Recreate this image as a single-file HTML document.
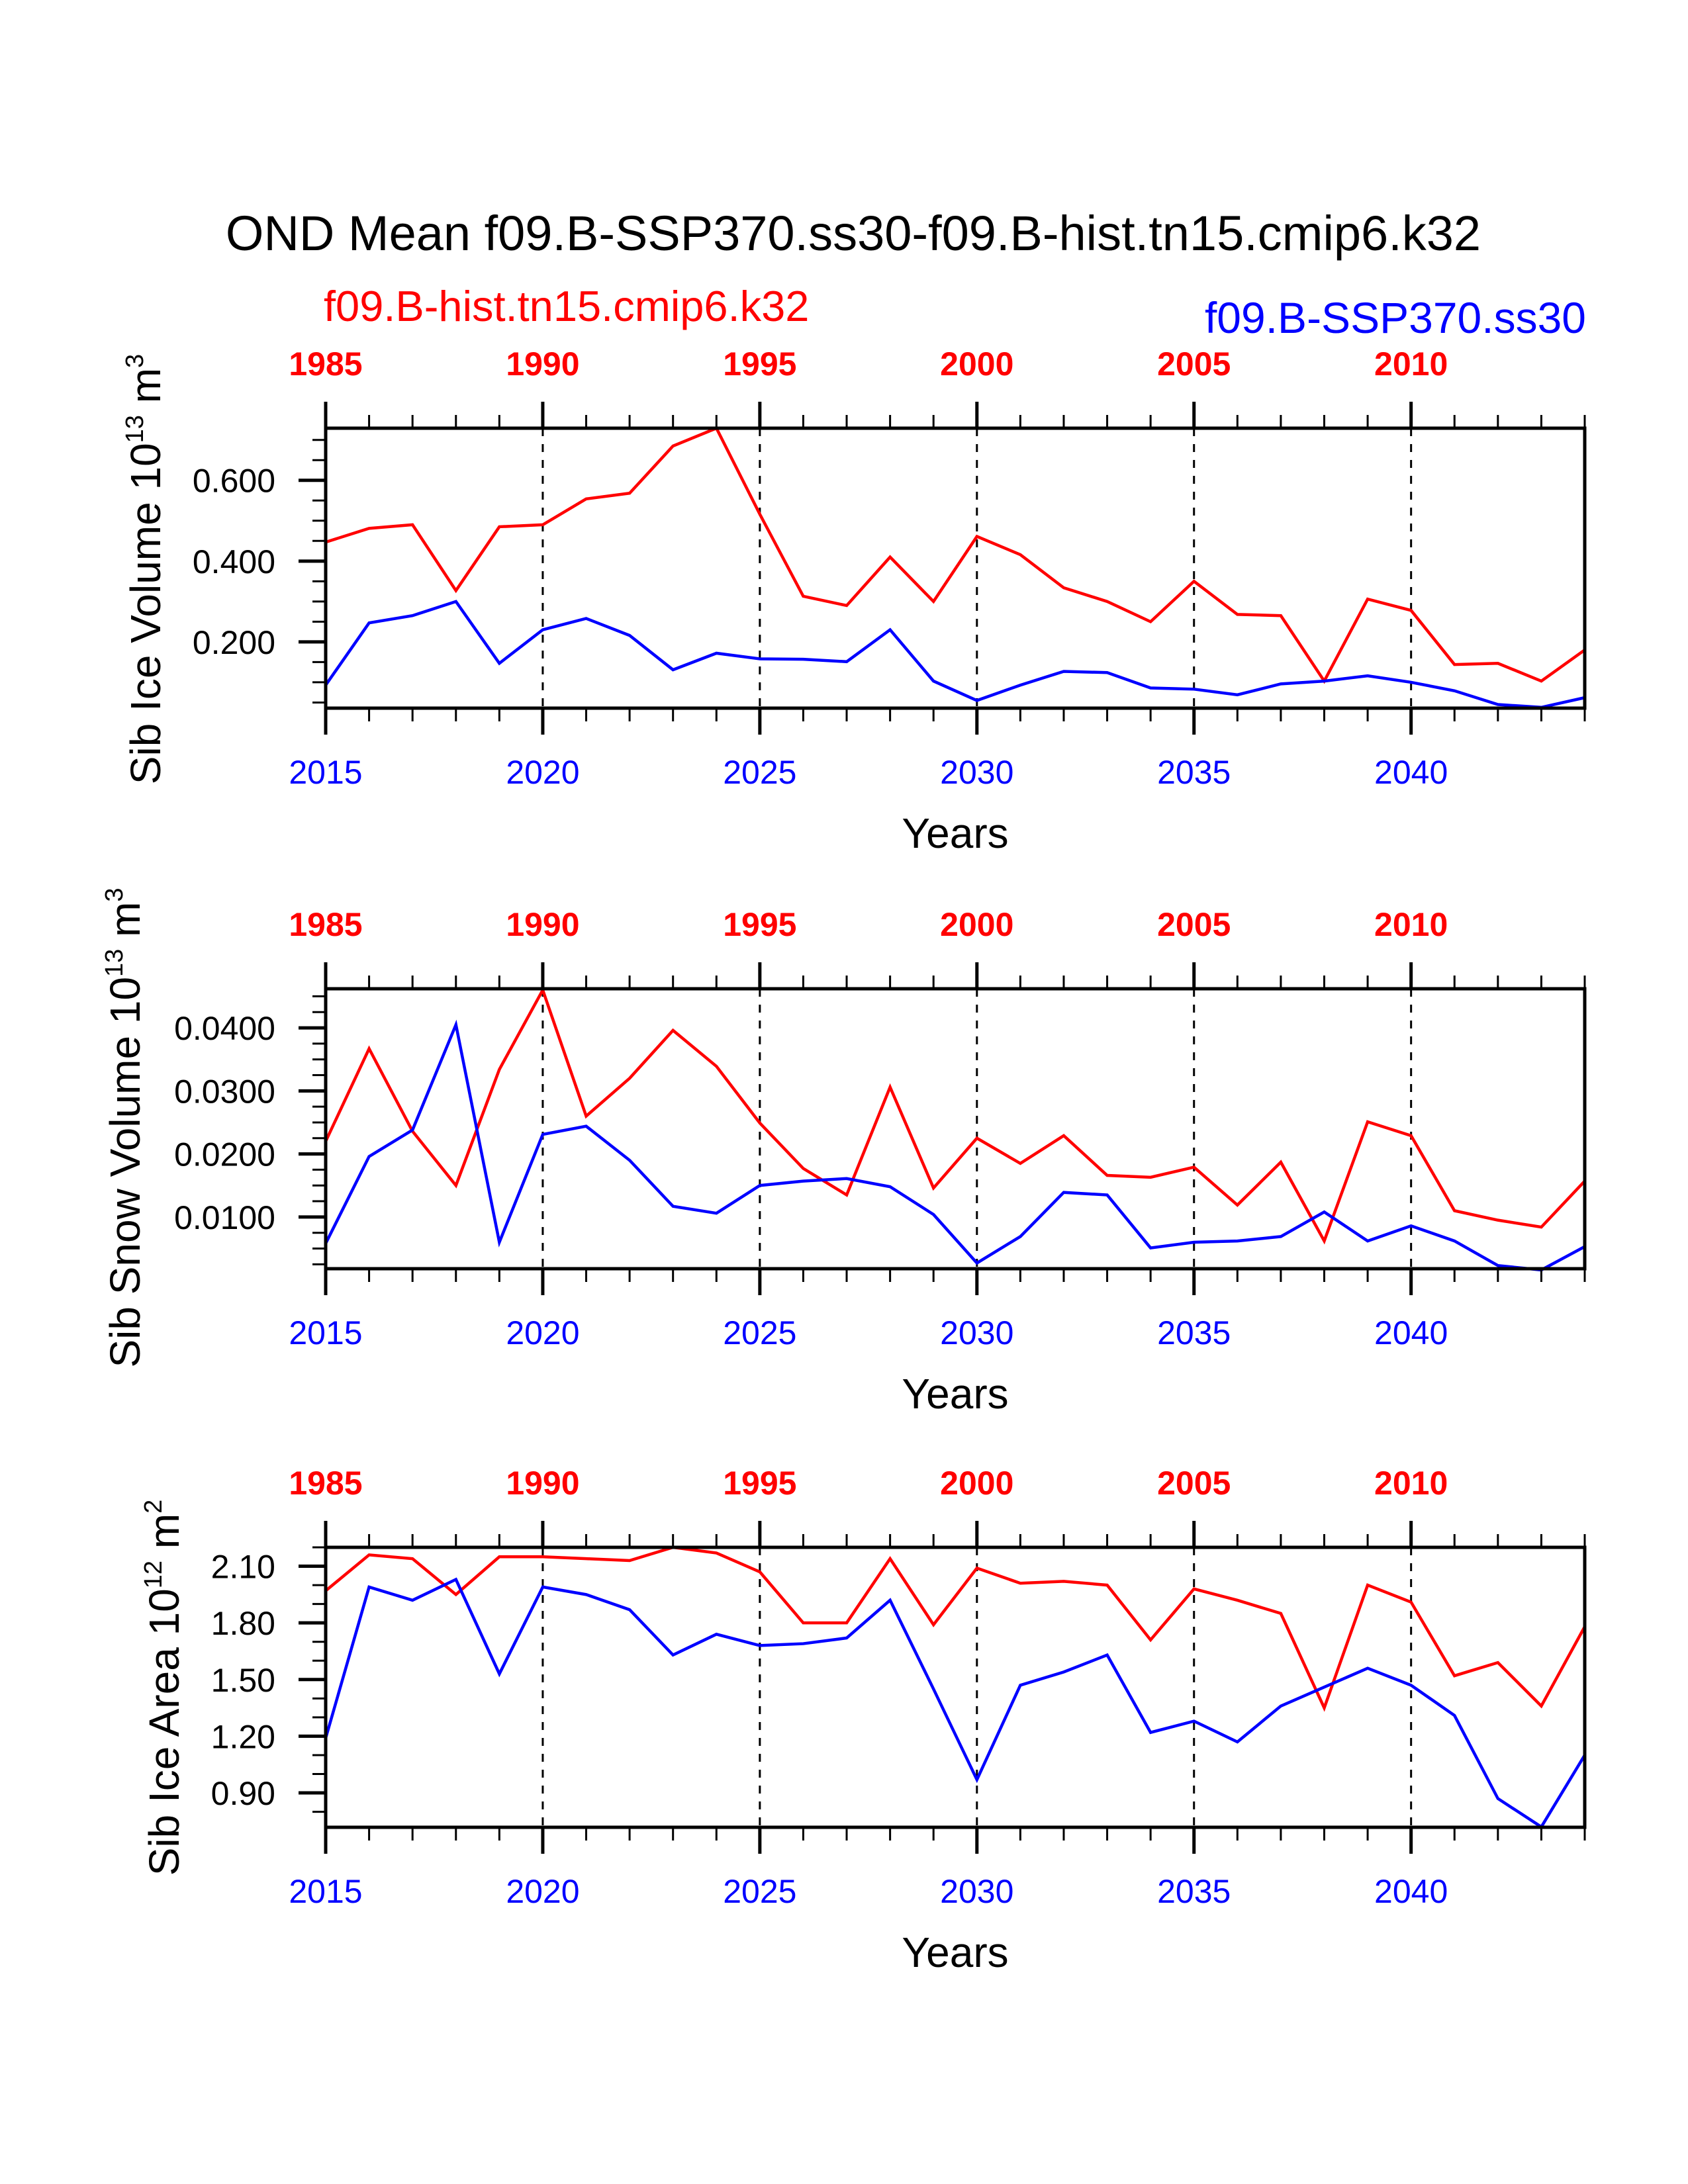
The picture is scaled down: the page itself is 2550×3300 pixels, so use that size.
<!DOCTYPE html>
<html><head><meta charset="utf-8"><style>
body{margin:0;background:#fff}
svg{display:block;font-family:"Liberation Sans",Arial,sans-serif}
</style></head><body>
<svg id="chart" xmlns="http://www.w3.org/2000/svg" width="2550" height="3300" viewBox="0 0 2550 3300">
<rect width="2550" height="3300" fill="#fff"/>
<text x="1289" y="378" font-size="74" text-anchor="middle">OND Mean f09.B-SSP370.ss30-f09.B-hist.tn15.cmip6.k32</text>
<text x="489" y="485" font-size="65" fill="#ff0000">f09.B-hist.tn15.cmip6.k32</text>
<text x="2396" y="503" font-size="66" fill="#0000ff" text-anchor="end">f09.B-SSP370.ss30</text>
</svg>
<script>
const years=[2015,2016,2017,2018,2019,2020,2021,2022,2023,2024,2025,2026,2027,2028,2029,2030,2031,2032,2033,2034,2035,2036,2037,2038,2039,2040,2041,2042,2043,2044];
const iceVolHist=[0.447,0.481,0.49,0.327,0.485,0.49,0.554,0.568,0.685,0.729,0.516,0.313,0.29,0.41,0.30,0.461,0.416,0.334,0.30,0.25,0.35,0.268,0.265,0.103,0.306,0.278,0.144,0.147,0.103,0.18];
const iceVolSsp=[0.093,0.247,0.265,0.30,0.147,0.23,0.258,0.216,0.131,0.172,0.158,0.157,0.151,0.23,0.103,0.055,0.093,0.127,0.124,0.086,0.083,0.069,0.096,0.103,0.116,0.10,0.079,0.045,0.038,0.062];
const snowHist=[0.022,0.0367,0.0236,0.015,0.0334,0.046,0.026,0.032,0.0396,0.0339,0.0249,0.0177,0.0135,0.0306,0.0146,0.0225,0.0185,0.0229,0.0166,0.0163,0.0179,0.0119,0.0187,0.0062,0.0251,0.0229,0.011,0.0095,0.0084,0.0157];
const snowSsp=[0.0058,0.0196,0.0238,0.0405,0.006,0.0231,0.0244,0.019,0.0117,0.0106,0.015,0.0157,0.0161,0.0148,0.0104,0.0027,0.0069,0.0139,0.0135,0.0051,0.006,0.0062,0.0069,0.0108,0.0062,0.0086,0.0062,0.0023,0.0016,0.0053];
const areaHist=[1.97,2.16,2.14,1.95,2.15,2.15,2.14,2.13,2.20,2.17,2.07,1.80,1.80,2.14,1.79,2.09,2.01,2.02,2.00,1.71,1.98,1.92,1.85,1.35,2.00,1.91,1.52,1.59,1.36,1.78];
const areaSsp=[1.19,1.99,1.92,2.03,1.53,1.99,1.95,1.87,1.63,1.74,1.68,1.69,1.72,1.92,1.45,0.97,1.47,1.54,1.63,1.22,1.28,1.17,1.36,1.46,1.56,1.47,1.31,0.87,0.72,1.10];
const bottomTickLabels=["2015","2020","2025","2030","2035","2040"];
const topTickLabels=["1985","1990","1995","2000","2005","2010"];
const ticks1=["0.200","0.400","0.600"];
const ticks2=["0.0100","0.0200","0.0300","0.0400"];
const ticks3=["0.90","1.20","1.50","1.80","2.10"];

const svg=document.getElementById('chart');
const NS='http://www.w3.org/2000/svg';
function mk(tag,attrs,parent){const e=document.createElementNS(NS,tag);for(const k in attrs)e.setAttribute(k,attrs[k]);(parent||svg).appendChild(e);return e;}
const X0=492,X1=2394,H=423;
const xs=y=>X0+(y-2015)*(X1-X0)/29;

function panel(name,top,ymin,ymax,ticks,minorStep,hist,ssp,title,sup,tx,ty){
  const g=mk('g',{});
  
  
  const ys=v=>top+H-(v-ymin)/(ymax-ymin)*H;
  for(let yr=2020;yr<=2040;yr+=5){
    const l=mk('line',{x1:xs(yr),x2:xs(yr),y1:top,y2:top+H,stroke:'#000','stroke-width':3,'stroke-dasharray':'12,12'},g);
    
    
  }
  [[hist,'#ff0000','hist'],[ssp,'#0000ff','ssp']].forEach(([d,c,n])=>{
    const p=mk('polyline',{points:d.map((v,i)=>xs(years[i])+','+ys(v)).join(' '),fill:'none',stroke:c,'stroke-width':4.5,'stroke-linejoin':'miter'},g);
    
    
  });
  const fr=mk('rect',{x:X0,y:top,width:X1-X0,height:H,fill:'none',stroke:'#000','stroke-width':5},g);
  
  
  for(let yr=2015;yr<=2044;yr++){
    const major=(yr%5===0), len=major?40:20, w=major?5:3;
    mk('line',{x1:xs(yr),x2:xs(yr),y1:top,y2:top-len,stroke:'#000','stroke-width':w},g);
    mk('line',{x1:xs(yr),x2:xs(yr),y1:top+H,y2:top+H+len,stroke:'#000','stroke-width':w},g);
  }
  bottomTickLabels.forEach((t,i)=>{
    const e=mk('text',{x:xs(+t),y:top+H+114,'font-size':50,fill:'#0000ff','text-anchor':'middle'},g);e.textContent=t;
    
    
  });
  topTickLabels.forEach((t,i)=>{
    const e=mk('text',{x:xs(2015+i*5),y:top-80,'font-size':50,'font-weight':'bold',fill:'#ff0000','text-anchor':'middle'},g);e.textContent=t;
    
    
  });
  const s0=Math.ceil(ymin/minorStep-1e-6);
  for(let k=s0;k*minorStep<=ymax+1e-9;k++){
    const v=k*minorStep;
    mk('line',{x1:X0,x2:X0-20,y1:ys(v),y2:ys(v),stroke:'#000','stroke-width':3},g);
  }
  ticks.forEach(t=>{
    const v=parseFloat(t);
    mk('line',{x1:X0,x2:X0-41,y1:ys(v),y2:ys(v),stroke:'#000','stroke-width':5},g);
    const e=mk('text',{x:416,y:ys(v)+18,'font-size':50,'text-anchor':'end'},g);e.textContent=t;
    
    
  });
  const xl=mk('text',{x:1443,y:top+H+211,'font-size':64,'text-anchor':'middle'},g);xl.textContent='Years';
  
  
  const yt=mk('text',{x:tx,y:ty,'font-size':64,'text-anchor':'middle',transform:'rotate(-90 '+tx+' '+ty+')'},g);
  
  
  yt.innerHTML=title+' 10<tspan dy="-26" font-size="38">'+sup[0]+'</tspan><tspan dy="26"> m</tspan><tspan dy="-26" font-size="38">'+sup[1]+'</tspan>';
}
panel('panel-ice-volume',647,0.036,0.729,ticks1,0.05,iceVolHist,iceVolSsp,'Sib Ice Volume',['13','3'],242,860);
panel('panel-snow-volume',1494,0.0018,0.0462,ticks2,0.0025,snowHist,snowSsp,'Sib Snow Volume',['13','3'],211,1704);
panel('panel-ice-area',2338,0.718,2.20,ticks3,0.1,areaHist,areaSsp,'Sib Ice Area',['12','2'],270,2550);
</script>
</body></html>
